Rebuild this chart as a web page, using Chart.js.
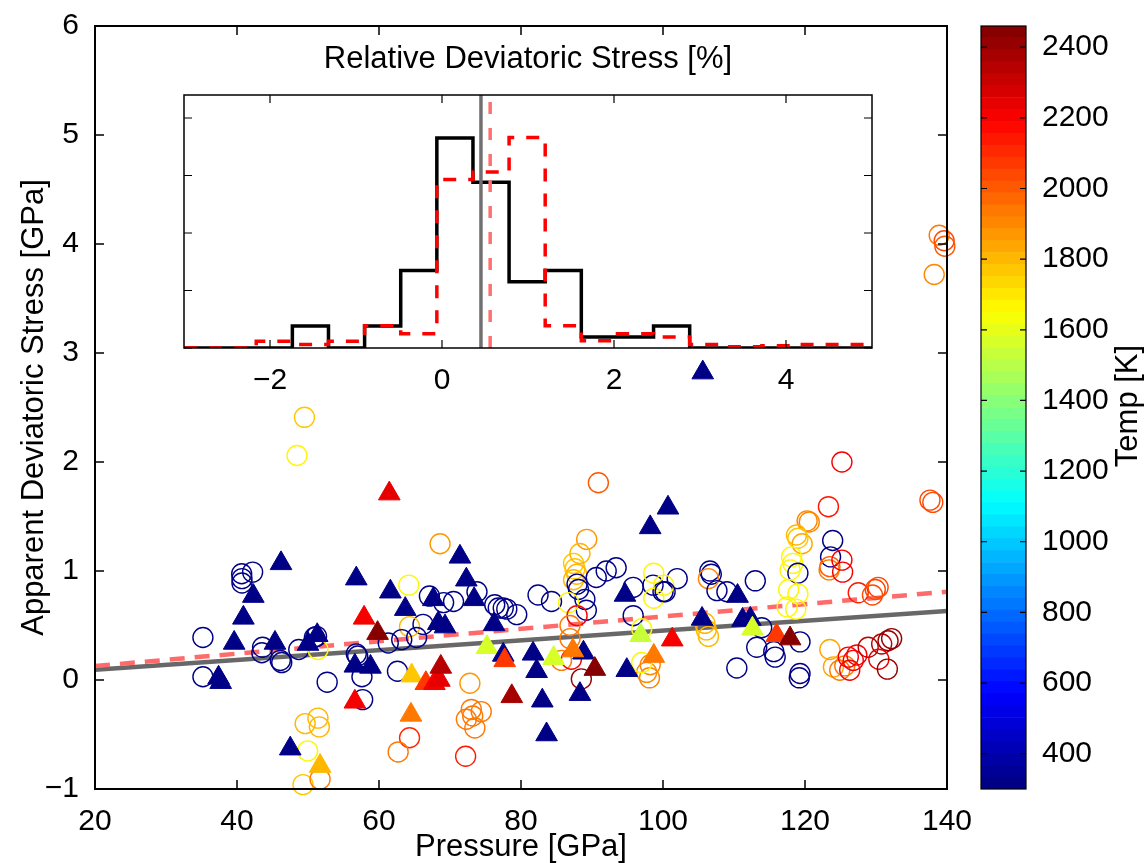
<!DOCTYPE html>
<html>
<head>
<meta charset="utf-8">
<script src="https://cdn.jsdelivr.net/npm/chart.js@4.4.1/dist/chart.umd.min.js"></script>
<style>
  html, body { margin: 0; padding: 0; background: #fff; }
  #wrap { position: relative; width: 1147px; height: 863px; overflow: hidden; background: #fff; }
  canvas { position: absolute; }
  #main { left: 0; top: 0; }
  #inset { left: 140px; top: 30px; }
  #cbar { left: 960px; top: 0; }
  #cbTitle {
    position: absolute; left: 1027px; top: 388px; width: 200px; height: 36px;
    line-height: 36px; text-align: center; font: 31px "Liberation Sans", Arial, sans-serif;
    transform: rotate(-90deg); color: #000;
  }
</style>
</head>
<body>
<div id="wrap">
  <canvas id="main" width="1147" height="863"></canvas>
  <canvas id="inset" width="776" height="380"></canvas>
  <canvas id="cbar" width="187" height="863"></canvas>
  <div id="cbTitle">Temp [K]</div>
</div>
<script>
// ---- main scatter: open circles ----
var circP = [49.5, 48.45, 40.66, 40.7, 40.7, 42.2, 35.2, 35.2, 43.5, 43.6, 46.1, 46.3, 48.7, 50.9, 51.2, 51.4, 52.7, 56.8, 57.0, 57.6, 57.7,
  49.6, 51.4, 51.6, 49.95, 49.3, 51.7,
  90.9, 68.6, 89.25, 64.2, 67.1, 69.1, 70.5, 73.8, 76.3, 76.8, 77.5, 78.0, 79.4, 66.2, 64.3, 63.2, 65.3, 61.3, 82.4, 84.3,
  87.4, 87.6, 87.85, 87.4, 88.3, 87.9, 88.1, 89.0, 89.2, 90.6, 92.0, 93.4, 86.7, 87.9, 86.9, 86.9, 95.8, 95.8, 98.6, 100.0,
  98.7, 98.7, 97.0, 98.2, 97.7, 98.1, 97.0, 85.7, 87.1, 88.5, 62.6, 72.8, 73.0, 73.2, 72.3, 74.4, 73.5, 64.3, 62.7, 72.2,
  125.2, 137.6, 138.0, 123.3, 120.3, 120.6, 118.8, 119.6, 119.0, 118.1, 118.3, 117.9, 119.0, 123.9, 123.6, 123.5, 123.4,
  125.2, 125.3, 127.5, 129.9, 130.3, 129.5, 117.7, 119.0, 117.5, 118.7, 106.6, 106.8, 106.4, 107.6, 109.0, 113.0, 102.0,
  100.1, 100.3, 105.9, 106.1, 106.4, 113.2, 113.9, 115.6, 115.8, 119.3, 119.3, 119.2, 110.4, 123.5, 124.0, 124.9, 125.6,
  126.1, 126.8, 127.3, 126.3, 128.9, 130.8, 131.7, 132.2, 130.4, 131.6, 138.9, 139.6, 139.7, 138.2];
var circS = [2.41, 2.06, 0.975, 0.93, 0.89, 0.99, 0.39, 0.03, 0.25, 0.30, 0.18, 0.16, 0.28, 0.39, 0.40, 0.28, -0.02, 0.24, 0.22, 0.03, -0.18,
  -0.40, -0.35, -0.43, -0.65, -0.96, -0.91,
  1.81, 1.25, 1.29, 0.87, 0.77, 0.71, 0.72, 0.81, 0.69, 0.66, 0.66, 0.65, 0.60, 0.51, 0.49, 0.37, 0.39, 0.34, 0.78, 0.72,
  1.07, 1.02, 0.97, 0.92, 1.16, 0.88, 0.83, 0.74, 0.64, 0.94, 1.0, 1.03, 0.71, 0.59, 0.50, 0.38, 0.59, 0.85, 0.87, 0.81,
  0.98, 0.75, 0.47, 0.14, 0.07, 0.02, 0.16, 0.18, 0.19, 0.01, 0.08, -0.03, -0.27, -0.33, -0.36, -0.29, -0.44, -0.53, -0.66, -0.70,
  2.0, 1.65, 1.63, 1.59, 1.46, 1.45, 1.33, 1.25, 1.30, 1.13, 1.07, 1.01, 0.98, 1.28, 1.13, 1.04, 1.01,
  1.10, 0.99, 0.80, 0.83, 0.85, 0.78, 0.83, 0.79, 0.67, 0.65, 1.0, 0.97, 0.93, 0.82, 0.81, 0.91, 0.93,
  0.87, 0.81, 0.52, 0.46, 0.40, 0.30, 0.48, 0.26, 0.21, 0.35, 0.06, 0.02, 0.11, 0.28, 0.12, 0.09, 0.13,
  0.21, 0.18, 0.23, 0.09, 0.30, 0.33, 0.36, 0.38, 0.19, 0.10, 4.08, 4.03, 3.98, 3.72];
var circT = [1780, 1660, 310, 310, 310, 310, 310, 310, 310, 310, 310, 310, 310, 310, 310, 1650, 310, 310, 310, 310, 310,
  1800, 1800, 1800, 1650, 1780, 1950,
  2000, 1880, 1880, 1660, 310, 310, 310, 310, 310, 310, 310, 310, 310, 310, 1800, 310, 310, 310, 310, 310,
  1780, 1780, 1800, 1800, 1800, 310, 310, 310, 310, 310, 310, 310, 1650, 2200, 1950, 1950, 310, 310, 310, 310,
  1660, 1660, 1660, 1900, 1900, 1900, 1660, 1950, 2200, 2400, 310, 1880, 1950, 1950, 1950, 1950, 1950, 2100, 1950, 2150,
  2200, 2050, 2050, 2150, 1900, 1900, 1800, 1850, 1780, 1660, 1660, 1660, 310, 310, 310, 2000, 1950,
  2200, 2200, 2150, 2050, 2050, 2050, 1660, 1660, 1660, 1660, 310, 310, 1900, 310, 310, 310, 310,
  1660, 310, 1800, 1800, 1800, 310, 310, 310, 310, 310, 310, 310, 310, 1850, 1850, 1950, 1950,
  2200, 2200, 2200, 2200, 2350, 2350, 2400, 2400, 2250, 2400, 1920, 2050, 2000, 1900];

// ---- main scatter: filled triangles ----
var triP = [46.2, 42.3, 40.9, 39.6, 37.4, 37.7, 45.35, 51.3, 50.0, 56.8, 57.9, 59.8, 56.6, 58.8, 56.6, 47.5, 51.7,
  61.45, 100.7, 98.2, 71.4, 72.3, 61.6, 63.7, 67.65, 73.4, 76.2, 68.35, 69.3, 94.65, 96.85, 75.2, 84.6,
  77.5, 81.7, 82.2, 88.8, 94.9, 77.7, 87.3, 90.4, 98.7, 64.6, 66.6, 67.8, 68.5, 68.7, 78.7, 83.0, 88.3, 83.6, 64.5,
  110.5, 105.5, 111.2, 112.3, 112.6, 116.0, 117.9, 101.3, 105.6];
var triS = [1.07, 0.77, 0.57, 0.34, 0.02, -0.02, 0.34, 0.41, 0.33, 0.93, 0.57, 0.43, 0.13, 0.12, -0.20, -0.63, -0.79,
  1.71, 1.58, 1.40, 1.13, 0.92, 0.81, 0.65, 0.74, 0.74, 0.51, 0.52, 0.49, 0.78, 0.41, 0.30, 0.20,
  0.23, 0.24, 0.08, 0.25, 0.09, 0.18, 0.27, 0.10, 0.22, 0.04, -0.03, -0.03, 0.00, 0.12, -0.15, -0.19, -0.13, -0.50, -0.32,
  0.77, 0.56, 0.55, 0.56, 0.47, 0.41, 0.38, 0.37, 2.82];
var triT = [310, 310, 310, 310, 310, 310, 310, 310, 310, 310, 2200, 2430, 310, 310, 2200, 310, 1800,
  2250, 310, 310, 310, 310, 310, 310, 310, 310, 310, 310, 310, 310, 1530, 1560, 1560,
  310, 310, 310, 310, 310, 2080, 1950, 2430, 1920, 1780, 2080, 2200, 2250, 2330, 2380, 310, 310, 310, 1930,
  310, 310, 310, 310, 1560, 2080, 2430, 2200, 310];

// ---- fit lines (pressure, stress) ----
var fitP = [20, 140];
var fitSolid = [0.095, 0.632];
var fitDashed = [0.128, 0.81];

// ---- inset histograms ----
var binLeft = [-2.16, -1.74, -1.32, -0.90, -0.48, -0.06, 0.36, 0.78, 1.20, 1.62, 2.04, 2.46, 2.88, 3.30, 3.72, 4.14, 4.56];
var histBlack = [0, 0.0192, 0, 0.0192, 0.0673, 0.1827, 0.1442, 0.0577, 0.0673, 0.0096, 0.0096, 0.0192, 0, 0, 0, 0, 0];
var histRed = [0.0058, 0.003, 0.0058, 0.0194, 0.0125, 0.1465, 0.153, 0.183, 0.0194, 0.0064, 0.0125, 0.0095, 0.003, 0.001, 0.002, 0.003, 0.003];
var meanBlack = 0.453;
var meanRed = 0.56;

// ---- ticks ----
var xTicks = [20, 40, 60, 80, 100, 120, 140];
var yTicks = [-1, 0, 1, 2, 3, 4, 5, 6];
var insetXTicks = [-2, 0, 2, 4];
var insetYTicks = [0, 0.05, 0.1, 0.15, 0.2];
var cbTicks = [400, 600, 800, 1000, 1200, 1400, 1600, 1800, 2000, 2200, 2400];
var tMin = 300, tMax = 2460, nColors = 64;

Chart.defaults.font.family = '"Liberation Sans", Arial, sans-serif';
Chart.defaults.font.size = 30;
Chart.defaults.color = '#000';
var titleFont = { size: 31 };

function jet(t) {
  var v = (t - tMin) / (tMax - tMin);
  var i = Math.min(nColors - 1, Math.max(0, Math.floor(v * nColors)));
  v = (i + 0.5) / nColors;
  function c(x) { return Math.round(255 * Math.min(1, Math.max(0, x))); }
  return 'rgb(' + c(1.5 - Math.abs(4 * v - 3)) + ',' + c(1.5 - Math.abs(4 * v - 2)) + ',' + c(1.5 - Math.abs(4 * v - 1)) + ')';
}
function pts(xs, ys) { return xs.map(function (x, i) { return { x: x, y: ys[i] }; }); }
function stairs(vals) {
  var p = [{ x: -3, y: 0 }];
  binLeft.forEach(function (b, i) { p.push({ x: b, y: vals[i] }); });
  p.push({ x: 5, y: vals[vals.length - 1] });
  return p;
}
function setTicks(arr) { return function (s) { s.ticks = arr.map(function (v) { return { value: v }; }); }; }
function minus(v) { return String(v).replace('-', '\u2212'); }

// box and inward tick marks, matlab style
var frame = {
  id: 'frame',
  beforeDraw: function (chart, args, o) {
    if (!o.fill) return;
    var a = chart.chartArea;
    chart.ctx.save();
    chart.ctx.fillStyle = o.fill;
    chart.ctx.fillRect(a.left, a.top, a.right - a.left, a.bottom - a.top);
    chart.ctx.restore();
  },
  afterDatasetsDraw: function (chart, args, o) {
    var a = chart.chartArea, ctx = chart.ctx;
    var xs = chart.scales.x, ys = chart.scales.y;
    ctx.save();
    ctx.strokeStyle = '#000';
    ctx.lineWidth = o.width;
    ctx.beginPath();
    if (o.xTicks) {
      xs.ticks.forEach(function (t) {
        var p = xs.getPixelForValue(t.value);
        ctx.moveTo(p, a.bottom); ctx.lineTo(p, a.bottom - o.len);
        ctx.moveTo(p, a.top); ctx.lineTo(p, a.top + o.len);
      });
    }
    ys.ticks.forEach(function (t) {
      var p = ys.getPixelForValue(t.value);
      ctx.moveTo(a.left, p); ctx.lineTo(a.left + o.len, p);
      ctx.moveTo(a.right, p); ctx.lineTo(a.right - o.len, p);
    });
    ctx.stroke();
    ctx.lineWidth = o.boxWidth;
    ctx.strokeRect(a.left, a.top, a.right - a.left, a.bottom - a.top);
    ctx.restore();
  }
};

// ---- main chart ----
new Chart(document.getElementById('main'), {
  type: 'scatter',
  data: {
    datasets: [{
      data: pts(triP, triS),
      pointStyle: 'triangle',
      pointRadius: 12.5,
      pointBackgroundColor: function (c) { return jet(triT[c.dataIndex]); },
      pointBorderColor: function (c) { return jet(triT[c.dataIndex]); },
      pointBorderWidth: 1,
      clip: false
    }, {
      data: pts(circP, circS),
      pointStyle: 'circle',
      pointRadius: 10,
      pointBackgroundColor: 'rgba(0,0,0,0)',
      pointBorderColor: function (c) { return jet(circT[c.dataIndex]); },
      pointBorderWidth: 1.4,
      clip: false
    }, {
      data: pts(fitP, fitDashed),
      showLine: true,
      pointRadius: 0,
      borderColor: '#ff6a6a',
      borderWidth: 4.5,
      borderDash: [15, 10]
    }, {
      data: pts(fitP, fitSolid),
      showLine: true,
      pointRadius: 0,
      borderColor: '#686868',
      borderWidth: 4.5
    }]
  },
  options: {
    responsive: false,
    animation: false,
    events: [],
    layout: { padding: { top: 23, right: 200, left: 0, bottom: 0 } },
    scales: {
      x: {
        min: 20, max: 140,
        afterBuildTicks: setTicks(xTicks),
        afterFit: function (s) { s.height = 74; },
        grid: { display: false },
        border: { display: false },
        ticks: { padding: 7, maxRotation: 0, callback: minus },
        title: { display: true, text: 'Pressure [GPa]', font: titleFont, padding: { top: 0, bottom: -3 } }
      },
      y: {
        min: -1, max: 6,
        afterBuildTicks: setTicks(yTicks),
        afterFit: function (s) { s.width = 95; },
        grid: { display: false },
        border: { display: false },
        ticks: { padding: 8, callback: minus },
        title: { display: true, text: 'Apparent Deviatoric Stress [GPa]', font: titleFont, padding: { top: 16, bottom: 0 } }
      }
    },
    plugins: {
      legend: { display: false },
      tooltip: { enabled: false },
      frame: { width: 1.5, boxWidth: 2, len: 9, xTicks: true, fill: '#fff' }
    }
  },
  plugins: [frame]
});

// ---- inset histogram ----
new Chart(document.getElementById('inset'), {
  type: 'scatter',
  data: {
    datasets: [{
      data: [{ x: meanRed, y: 0 }, { x: meanRed, y: 0.22 }],
      showLine: true, pointRadius: 0,
      borderColor: '#ff7070', borderWidth: 3.5, borderDash: [12, 14]
    }, {
      data: [{ x: meanBlack, y: 0 }, { x: meanBlack, y: 0.22 }],
      showLine: true, pointRadius: 0,
      borderColor: '#707070', borderWidth: 3.5
    }, {
      data: stairs(histRed),
      showLine: true, stepped: true, pointRadius: 0,
      borderColor: '#ff0000', borderWidth: 3.5, borderDash: [13, 12]
    }, {
      data: stairs(histBlack),
      showLine: true, stepped: true, pointRadius: 0,
      borderColor: '#000', borderWidth: 3.5
    }]
  },
  options: {
    responsive: false,
    animation: false,
    events: [],
    layout: { padding: 0 },
    scales: {
      x: {
        min: -3, max: 5,
        afterBuildTicks: setTicks(insetXTicks),
        afterFit: function (s) { s.height = 62; },
        grid: { display: false },
        border: { display: false },
        ticks: { padding: 7, maxRotation: 0, callback: minus }
      },
      y: {
        min: 0, max: 0.22,
        afterBuildTicks: setTicks(insetYTicks),
        afterFit: function (s) { s.width = 44; },
        grid: { display: false },
        border: { display: false },
        ticks: { display: false }
      },
      y2: {
        position: 'right',
        min: 0, max: 0.22,
        afterFit: function (s) { s.width = 44; },
        grid: { display: false },
        border: { display: false },
        ticks: { display: false }
      }
    },
    plugins: {
      legend: { display: false },
      tooltip: { enabled: false },
      title: {
        display: true, text: 'Relative Deviatoric Stress [%]',
        font: { size: 31, weight: 'normal' }, color: '#000',
        padding: { top: 11, bottom: 16.8 }
      },
      frame: { width: 1.2, boxWidth: 1.5, len: 8, xTicks: true, fill: '#fff' }
    }
  },
  plugins: [frame]
});

// ---- colour bar ----
var cbSets = [];
for (var i = 0; i < nColors; i++) {
  var lo = tMin + i * (tMax - tMin) / nColors;
  var hi = tMin + (i + 1) * (tMax - tMin) / nColors;
  cbSets.push({
    data: [[lo, hi]],
    backgroundColor: jet((lo + hi) / 2),
    borderWidth: 0,
    barPercentage: 1,
    categoryPercentage: 1,
    grouped: false
  });
}
new Chart(document.getElementById('cbar'), {
  type: 'bar',
  data: { labels: [''], datasets: cbSets },
  options: {
    responsive: false,
    animation: false,
    events: [],
    layout: { padding: { top: 23, right: 0, left: 21, bottom: 74 } },
    scales: {
      x: { display: false },
      y: {
        position: 'right',
        min: tMin, max: tMax,
        afterBuildTicks: setTicks(cbTicks),
        afterFit: function (s) { s.width = 121; },
        grid: { display: false },
        border: { display: false },
        ticks: { padding: 8, callback: function (v) { return String(v); } }
      }
    },
    plugins: {
      legend: { display: false },
      tooltip: { enabled: false },
      frame: { width: 1.2, boxWidth: 1.2, len: 6, xTicks: false }
    }
  },
  plugins: [frame]
});
</script>
</body>
</html>
